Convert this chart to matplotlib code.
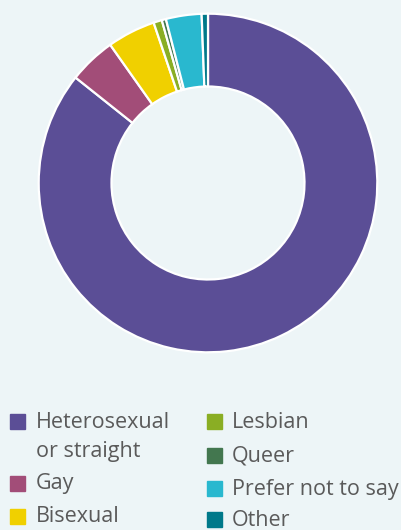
import matplotlib.pyplot as plt
from matplotlib.patches import Rectangle

# data
labels = ['Heterosexual\nor straight', 'Gay', 'Bisexual', 'Lesbian', 'Queer', 'Prefer not to say', 'Other']
values = [85.7, 4.5, 4.6, 0.8, 0.4, 3.4, 0.6]
colors = ['#5b4e96', '#a24d78', '#f0d000', '#8aae24', '#43774f', '#29b8cf', '#00798a']

bg = '#edf5f7'
text_color = '#5a5a5a'

fig = plt.figure(figsize=(4.01, 5.30), dpi=100, facecolor=bg)

# donut
ax = fig.add_axes([37 / 401, 1 - 354 / 530, 342 / 401, 342 / 530])
ax.set_facecolor(bg)
ax.pie(values, colors=colors, startangle=90, counterclock=False, radius=1,
       wedgeprops=dict(width=0.43, edgecolor='white', linewidth=1.6))
ax.set_xlim(-1.01, 1.01)
ax.set_ylim(-1.01, 1.01)
ax.set_aspect('equal')
ax.axis('off')

# legend, drawn by hand (two columns, 3 on left, 4 on right)
left_rows = [421, 483, 516]
right_rows = [421, 455, 488, 519]
line_gap = 29
positions = [(10, 36, y) for y in left_rows] + [(207, 232, y) for y in right_rows]
for (sx, tx, y), lab, col in zip(positions, labels, colors):
    fig.patches.append(Rectangle((sx / 401, 1 - (y + 7.5) / 530), 15 / 401, 15 / 530,
                                 transform=fig.transFigure, color=col))
    for k, line in enumerate(lab.split('\n')):
        fig.text(tx / 401, 1 - (y + 1 + k * line_gap) / 530, line, fontsize=15.5,
                 family='Open Sans', color=text_color, va='center')

fig.savefig('out.png', dpi=100, facecolor=bg)
